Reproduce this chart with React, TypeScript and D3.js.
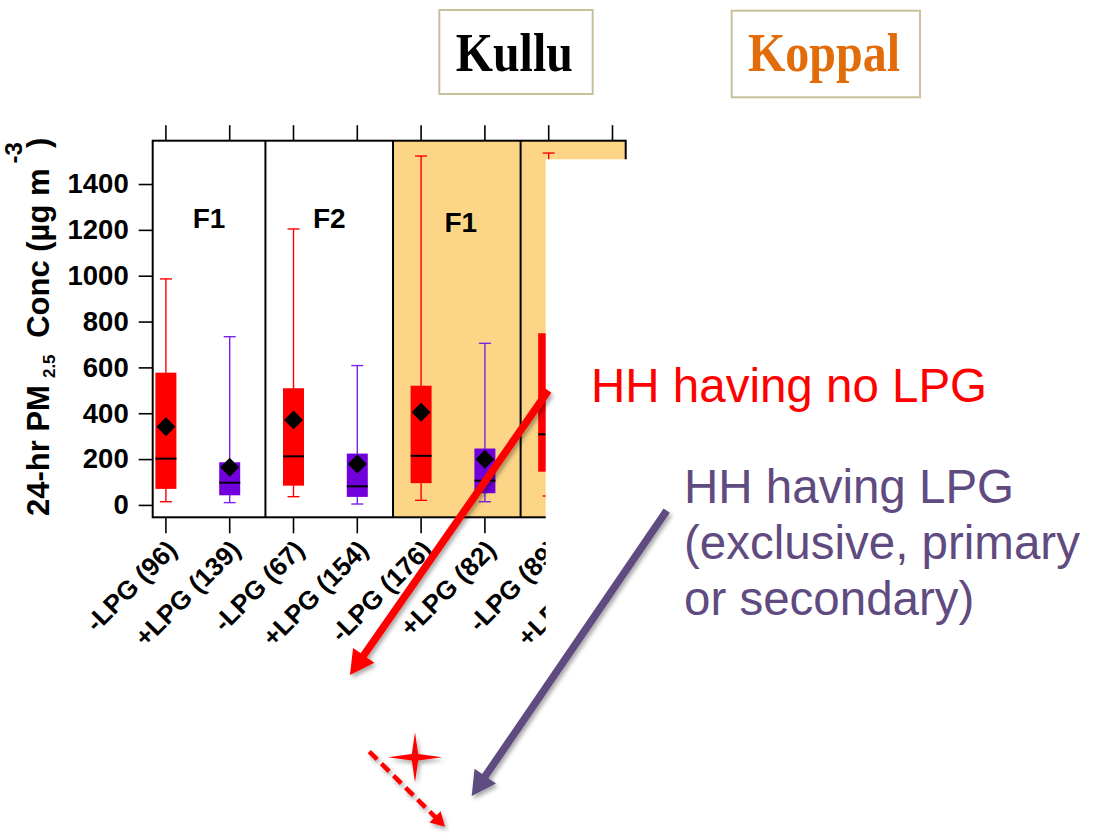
import React, { useRef, useEffect } from 'react';
import * as d3 from 'd3';

// Box statistics (µg m-3); the last box is hidden by the slide overlay
const categories = ['-LPG (96)', '+LPG (139)', '-LPG (67)', '+LPG (154)', '-LPG (176)', '+LPG (82)', '-LPG (89)', '+LPG (108)'];
const whiskerLow = [14, 10, 36, 4, 20, 14, 39, null];
const q1 = [70, 42, 84, 35, 95, 51, 145, null];
const median = [202, 97, 212, 81, 214, 106, 308, null];
const q3 = [577, 186, 509, 224, 520, 246, 749, null];
const whiskerHigh = [986, 734, 1204, 608, 1522, 705, 1535, null];
const mean = [341, 164, 371, 179, 404, 199, null, null];

const yTicks = [0, 200, 400, 600, 800, 1000, 1200, 1400];

// two boxes per panel
const panelLabels = ['F1', 'F2', 'F1', ''];
const panelSite = ['Kullu', 'Kullu', 'Koppal', 'Koppal'];

const RED = '#FF0000';
const PURPLE = '#7000DC';
const ORANGE_FILL = '#FDD587';

const App = () => {
    const svgRef = useRef(null);

    useEffect(() => {
        const svg = d3.select(svgRef.current);
        svg.selectAll('*').remove();

        const font = '"Liberation Sans", Arial, sans-serif';

        // plot frame
        const left = 152.7, right = 625.7, top = 140.7, bottom = 517.3;

        const x = d3.scalePoint().domain(categories).range([left, right]).padding(0.207);
        const y = d3.scaleLinear().domain([-54, 1589]).range([bottom, top]);
        const step = x.step();

        const defs = svg.append('defs');
        const shadow = defs.append('filter').attr('id', 'shadow')
            .attr('x', '-20%').attr('y', '-20%').attr('width', '140%').attr('height', '140%');
        shadow.append('feDropShadow')
            .attr('dx', 2).attr('dy', 3).attr('stdDeviation', 2)
            .attr('flood-color', '#000').attr('flood-opacity', 0.35);

        // panel backgrounds
        const edges = panelLabels.map((_, i) => {
            const x0 = i === 0 ? left : x(categories[i * 2 - 1]) + step * 0.56;
            const x1 = i === panelLabels.length - 1 ? right : x(categories[i * 2 + 1]) + step * 0.56;
            return [x0, x1];
        });

        svg.append('g').selectAll('rect')
            .data(edges)
            .enter().append('rect')
            .attr('x', d => d[0])
            .attr('y', top)
            .attr('width', d => d[1] - d[0])
            .attr('height', bottom - top)
            .attr('fill', (d, i) => panelSite[i] === 'Koppal' ? ORANGE_FILL : '#fff');

        // boxes
        const boxW = 21;
        const capW = 12;
        const idx = d3.range(categories.length).filter(i => q1[i] !== null);
        const colorOf = i => categories[i].startsWith('-') ? RED : PURPLE;
        const boxes = svg.append('g');

        boxes.selectAll('.whisker')
            .data(idx)
            .enter().append('line')
            .attr('x1', i => x(categories[i]))
            .attr('x2', i => x(categories[i]))
            .attr('y1', i => y(whiskerLow[i]))
            .attr('y2', i => y(whiskerHigh[i]))
            .attr('stroke', i => colorOf(i) === RED ? RED : '#7A22E8')
            .attr('stroke-width', 1.4);

        [whiskerLow, whiskerHigh].forEach(arr => {
            boxes.selectAll(null)
                .data(idx)
                .enter().append('line')
                .attr('x1', i => x(categories[i]) - capW / 2)
                .attr('x2', i => x(categories[i]) + capW / 2)
                .attr('y1', i => y(arr[i]))
                .attr('y2', i => y(arr[i]))
                .attr('stroke', i => colorOf(i) === RED ? RED : '#7A22E8')
                .attr('stroke-width', 1.4);
        });

        boxes.selectAll('.box')
            .data(idx)
            .enter().append('rect')
            .attr('x', i => x(categories[i]) - boxW / 2)
            .attr('width', boxW)
            .attr('y', i => y(q3[i]))
            .attr('height', i => y(q1[i]) - y(q3[i]))
            .attr('fill', colorOf);

        boxes.selectAll('.median')
            .data(idx)
            .enter().append('line')
            .attr('x1', i => x(categories[i]) - boxW / 2)
            .attr('x2', i => x(categories[i]) + boxW / 2)
            .attr('y1', i => y(median[i]))
            .attr('y2', i => y(median[i]))
            .attr('stroke', '#000')
            .attr('stroke-width', 2);

        const diamond = d3.symbol().type(d3.symbolSquare).size(180);
        boxes.selectAll('.mean')
            .data(idx.filter(i => mean[i] !== null))
            .enter().append('path')
            .attr('d', diamond)
            .attr('transform', i => `translate(${x(categories[i])},${y(mean[i])}) rotate(45)`)
            .attr('fill', '#000');

        // frame and panel dividers
        svg.append('rect')
            .attr('x', left).attr('y', top)
            .attr('width', right - left).attr('height', bottom - top)
            .attr('fill', 'none').attr('stroke', '#000').attr('stroke-width', 2);

        svg.append('g').selectAll('line')
            .data(edges.slice(1))
            .enter().append('line')
            .attr('x1', d => d[0]).attr('x2', d => d[0])
            .attr('y1', top).attr('y2', bottom)
            .attr('stroke', '#000').attr('stroke-width', 2);

        // top and bottom ticks
        const ticks = svg.append('g').attr('stroke', '#000').attr('stroke-width', 1.6);
        categories.forEach(c => {
            ticks.append('line').attr('x1', x(c)).attr('x2', x(c)).attr('y1', top - 15.5).attr('y2', top);
            ticks.append('line').attr('x1', x(c)).attr('x2', x(c)).attr('y1', bottom).attr('y2', bottom + 16);
        });

        // y axis
        const yAxis = svg.append('g')
            .attr('transform', `translate(${left},0)`)
            .call(d3.axisLeft(y).tickValues(yTicks).tickFormat(d3.format('d'))
                .tickSize(14).tickPadding(10).tickSizeOuter(0));
        yAxis.select('.domain').remove();
        yAxis.selectAll('line').attr('stroke', '#000').attr('stroke-width', 1.6);
        yAxis.selectAll('text')
            .attr('font-family', font)
            .attr('font-weight', 'bold')
            .attr('font-size', 27.5)
            .attr('fill', '#000');

        // x labels
        svg.append('g').selectAll('text')
            .data(categories)
            .enter().append('text')
            .attr('transform', d => `translate(${x(d) + 6},545) rotate(-45)`)
            .attr('dy', '0.35em')
            .attr('text-anchor', 'end')
            .attr('font-family', font)
            .attr('font-weight', 'bold')
            .attr('font-size', 26)
            .text(d => d);

        // panel labels
        svg.append('g').selectAll('text')
            .data(panelLabels)
            .enter().append('text')
            .attr('x', (d, i) => (edges[i][0] + edges[i][1]) / 2 + (i === 2 ? 4 : 0))
            .attr('y', (d, i) => y(i === 2 ? 1192 : 1208))
            .attr('text-anchor', 'middle')
            .attr('font-family', font)
            .attr('font-weight', 'bold')
            .attr('font-size', 28)
            .text(d => d);

        // y title
        const title = svg.append('text')
            .attr('transform', 'translate(49,516) rotate(-90)')
            .attr('font-family', font)
            .attr('font-weight', 'bold')
            .attr('font-size', 31);
        title.append('tspan').text('24-hr PM');
        title.append('tspan').attr('dx', 7).attr('dy', 6).attr('font-size', 17).text('2.5');
        title.append('tspan').attr('dx', 8).attr('dy', -6).text(' Conc (µg m');
        title.append('tspan').attr('dx', 5).attr('dy', -27).attr('font-size', 24).text('-3');
        title.append('tspan').attr('dx', -6).attr('dy', 27).text(')');

        // slide overlay hiding the rest of the Koppal panel
        svg.append('rect')
            .attr('x', 545.7).attr('y', 159.3)
            .attr('width', 1101 - 545.7).attr('height', 836 - 159.3)
            .attr('fill', '#fff');

        // site boxes
        const sites = [
            { name: 'Kullu', x0: 439.3, y0: 10, x1: 592.7, y1: 94, tx: 514.3, ty: 70.7, w: 117, color: '#000' },
            { name: 'Koppal', x0: 731.7, y0: 10.7, x1: 920, y1: 97.3, tx: 824, ty: 71, w: 152, color: '#E36C0A' },
        ];
        sites.forEach(s => {
            svg.append('rect')
                .attr('x', s.x0).attr('y', s.y0)
                .attr('width', s.x1 - s.x0).attr('height', s.y1 - s.y0)
                .attr('fill', '#fff').attr('stroke', '#C9C09B').attr('stroke-width', 2);
            svg.append('text')
                .attr('x', s.tx - s.w / 2).attr('y', s.ty)
                .attr('textLength', s.w)
                .attr('lengthAdjust', 'spacingAndGlyphs')
                .attr('font-family', '"Liberation Serif", "Times New Roman", serif')
                .attr('font-weight', 'bold')
                .attr('font-size', 55)
                .attr('fill', s.color)
                .text(s.name);
        });

        // annotations
        svg.append('text')
            .attr('x', 591).attr('y', 401.7)
            .attr('font-family', font).attr('font-size', 47.5).attr('fill', RED)
            .text('HH having no LPG');

        const purpleText = svg.append('text')
            .attr('font-family', font).attr('font-size', 47.5).attr('fill', '#5F4B7F');
        ['HH having LPG', '(exclusive, primary', 'or secondary)'].forEach((t, i) => {
            purpleText.append('tspan').attr('x', 684).attr('y', 502.7 + i * 56).text(t);
        });

        const arrow = (x1, y1, x2, y2, shaftW, headL, headHalf) => {
            const len = Math.hypot(x2 - x1, y2 - y1);
            const ux = (x2 - x1) / len, uy = (y2 - y1) / len;
            const nx = -uy, ny = ux;
            const bx = x2 - ux * headL, by = y2 - uy * headL;
            const s = shaftW / 2;
            const pts = [
                [x1 + nx * s, y1 + ny * s],
                [bx + nx * s, by + ny * s],
                [bx + nx * headHalf, by + ny * headHalf],
                [x2, y2],
                [bx - nx * headHalf, by - ny * headHalf],
                [bx - nx * s, by - ny * s],
                [x1 - nx * s, y1 - ny * s],
            ];
            return 'M' + pts.map(p => p.join(',')).join('L') + 'Z';
        };

        svg.append('path')
            .attr('d', arrow(548.3, 390.7, 350, 675, 7.5, 24, 13))
            .attr('fill', RED).attr('filter', 'url(#shadow)');

        svg.append('path')
            .attr('d', arrow(666.7, 510.7, 471.7, 796, 7.5, 24, 13))
            .attr('fill', '#5F4B7F').attr('filter', 'url(#shadow)');

        // four-point star
        const star = d3.range(8).map(k => {
            const a = -Math.PI / 2 + k * Math.PI / 4;
            const r = k % 2 === 0 ? (k % 4 === 0 ? 25 : 27) : 4.5;
            return [415 + Math.cos(a) * r, 757.3 + Math.sin(a) * r];
        });
        svg.append('path')
            .attr('d', 'M' + star.map(p => p.join(',')).join('L') + 'Z')
            .attr('fill', RED).attr('filter', 'url(#shadow)');

        // dashed arrow
        const dx = 445 - 369.3, dy = 826.7 - 751.7;
        const dl = Math.hypot(dx, dy);
        const hb = [445 - dx / dl * 13, 826.7 - dy / dl * 13];
        const dashed = svg.append('g').attr('filter', 'url(#shadow)');
        dashed.append('line')
            .attr('x1', 369.3).attr('y1', 751.7)
            .attr('x2', hb[0]).attr('y2', hb[1])
            .attr('stroke', RED).attr('stroke-width', 4.5)
            .attr('stroke-dasharray', '11 6');
        dashed.append('path')
            .attr('d', arrow(hb[0] - dx / dl * 1, hb[1] - dy / dl * 1, 445, 826.7, 0.1, 14, 8))
            .attr('fill', RED);
    }, []);

    return (
        <svg
            ref={svgRef}
            width={1101}
            height={836}
            style={{ position: 'absolute', left: 0, top: 0, background: '#fff' }}
        ></svg>
    );
};

export default App;
